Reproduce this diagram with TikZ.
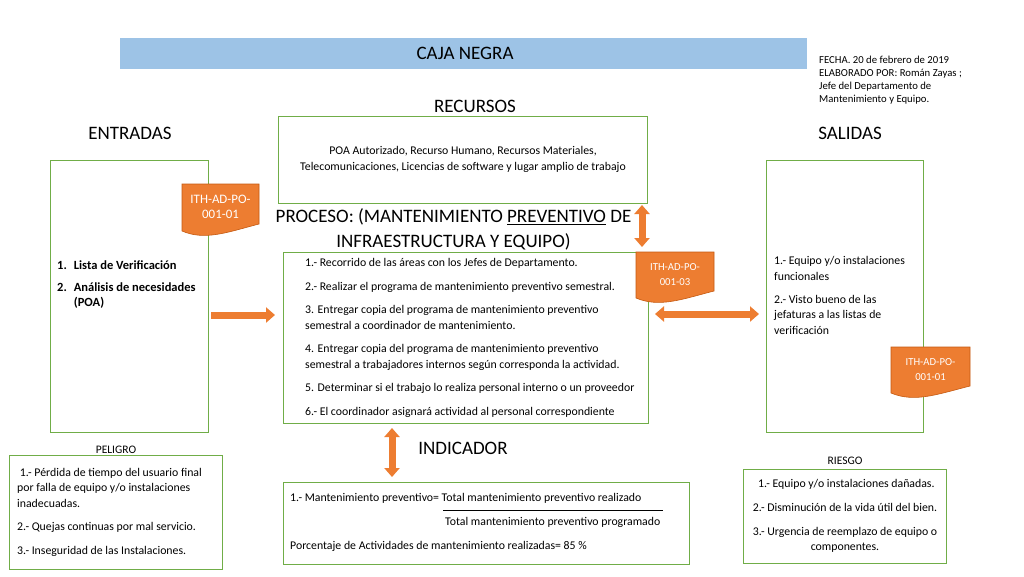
\documentclass[tikz,border=0pt]{standalone}
\usepackage{fontspec}
\setmainfont{Carlito}
\usetikzlibrary{arrows.meta}
\definecolor{gr}{HTML}{70AD47}
\definecolor{org}{HTML}{ED7D31}
\definecolor{orgd}{HTML}{C55A11}
\definecolor{blu}{HTML}{9DC3E6}
\newcommand{\docsh}[7]{%
  \path[docshape] (#2,#3) -- (#4,#3) -- (#4,{#5-12}) .. controls ({#2+0.6*(#4-#2)},{#5-4}) and ({#2+0.3*(#4-#2)},{#5+5}) .. (#2,{#5-5}) -- cycle;
  \node[doctext, font=\fontsize{#6}{15}\selectfont] (#1) at ({(#2+#4)/2},{(#3+#5)/2-3}) {#7};}
\begin{document}
\begin{tikzpicture}[x=1pt,y=-1pt,
  gbox/.style={draw=gr, line width=1.2pt, inner sep=0, anchor=north west},
  titletext/.style={font=\fontsize{19}{25}\selectfont, inner sep=0, align=center},
  body/.style={font=\fontsize{11.8}{15.5}\selectfont, inner sep=0, align=left},
  smalltext/.style={font=\fontsize{10.7}{13}\selectfont, inner sep=0, align=left},
  labeltext/.style={font=\fontsize{11.5}{14}\selectfont, inner sep=0},
  doctext/.style={text=white, align=center, inner sep=0},
  docshape/.style={fill=org, draw=orgd, line width=0.6pt},
  blockarrow/.style={draw=org, line width=7pt},
  tipone/.style={-{Triangle[width=15pt,length=9pt]}},
  tiptwo/.style={{Triangle[width=15pt,length=9pt]}-{Triangle[width=15pt,length=9pt]}}
]
\useasboundingbox (0,0) rectangle (1024,576);
\fill[white] (0,0) rectangle (1024,576);

% title bar
\node[fill=blu, inner sep=0, minimum width=687pt, minimum height=31pt, anchor=north west] (bar) at (120,38) {};
\node[titletext] (caja) at (465,53) {CAJA NEGRA};
\node[smalltext, anchor=west] (fecha) at (819,80.5) {FECHA. 20 de febrero de 2019\\ELABORADO POR: Román Zayas ;\\Jefe del Departamento de\\Mantenimiento y Equipo.};

% headings
\node[titletext] (recursosT) at (475,106) {RECURSOS};
\node[titletext] (entradasT) at (130,133) {ENTRADAS};
\node[titletext] (salidasT) at (850,133) {SALIDAS};
\node[titletext] (procesoT) at (453.5,229.5) {PROCESO: (MANTENIMIENTO \underline{PREVENTIVO} DE\\INFRAESTRUCTURA Y EQUIPO)};
\node[titletext] (indicT) at (463,448) {INDICADOR};

% boxes
\node[gbox, minimum width=369pt, minimum height=87pt] (recbox) at (278,116) {};
\node[body, align=center] (rectext) at (463,159.5) {POA Autorizado, Recurso Humano, Recursos Materiales,\\Telecomunicaciones, Licencias de software y lugar amplio de trabajo};

\node[gbox, minimum width=158pt, minimum height=272pt] (inbox) at (50,160) {};
\node[font=\fontsize{12.5}{14.5}\selectfont\bfseries, inner sep=0, anchor=west] (intext) at (57,285) {%
\begin{tabular}{@{}l@{\hspace{7pt}}l@{}}
1. & Lista de Verificación\\[8pt]
2. & Análisis de necesidades\\
   & (POA)
\end{tabular}};

\node[gbox, minimum width=365pt, minimum height=171pt] (procbox) at (283,252) {};
\node[body, anchor=west] (proctext) at (305,338) {1.- Recorrido de las áreas con los Jefes de Departamento.\\[8pt]
2.- Realizar el programa de mantenimiento preventivo semestral.\\[8pt]
3. Entregar copia del programa de mantenimiento preventivo\\semestral a coordinador de mantenimiento.\\[8pt]
4. Entregar copia del programa de mantenimiento preventivo\\semestral a trabajadores internos según corresponda la actividad.\\[8pt]
5. Determinar si el trabajo lo realiza personal interno o un proveedor\\[8pt]
6.- El coordinador asignará actividad al personal correspondiente};

\node[gbox, minimum width=157pt, minimum height=272pt] (outbox) at (766,160) {};
\node[body, anchor=west] (outtext) at (774,295.5) {1.- Equipo y/o instalaciones\\funcionales\\[7.5pt]
2.- Visto bueno de las\\jefaturas a las listas de\\verificación};

\node[gbox, minimum width=406pt, minimum height=82pt] (indbox) at (283,482) {};
\node[body, anchor=west] (ind1) at (290,498) {1.- Mantenimiento preventivo= Total mantenimiento preventivo realizado};
\coordinate (fracL) at (443,510);
\coordinate (fracR) at (663,510);
\draw[line width=0.6pt] (fracL) -- (fracR);
\node[body, anchor=west] (ind2) at (445,522) {Total mantenimiento preventivo programado};
\node[body, anchor=west] (ind3) at (290,546) {Porcentaje de Actividades de mantenimiento realizadas= 85 \%};

\node[labeltext] (peligroT) at (116,450) {PELIGRO};
\node[gbox, minimum width=213pt, minimum height=114pt] (pelbox) at (9,455) {};
\node[body, anchor=west] (peltext) at (17,512) {\ 1.- Pérdida de tiempo del usuario final\\por falla de equipo y/o instalaciones\\inadecuadas.\\[8pt]
2.- Quejas continuas por mal servicio.\\[8pt]
3.- Inseguridad de las Instalaciones.};

\node[labeltext] (riesgoT) at (845,461) {RIESGO};
\node[gbox, minimum width=203pt, minimum height=94pt] (riebox) at (743,469) {};
\node[body, align=center, font=\fontsize{11.8}{15}\selectfont] (rietext) at (845,515.5) {\ 1.- Equipo y/o instalaciones dañadas.\\[9pt]
2.- Disminución de la vida útil del bien.\\[9pt]
3.- Urgencia de reemplazo de equipo o\\componentes.};

% document shapes
\docsh{doc1}{182}{184}{259}{236}{12.9}{ITH-AD-PO-\\001-01}
\docsh{doc2}{636}{252}{714}{303}{10.7}{ITH-AD-PO-\\001-03}
\docsh{doc3}{891}{347}{970}{398}{10.7}{ITH-AD-PO-\\001-01}

% arrows
\coordinate (a1s) at (211,315);
\coordinate (a1e) at (275,315);
\draw[blockarrow, tipone] (a1s) -- (a1e);
\coordinate (a2s) at (655,314);
\coordinate (a2e) at (759,314);
\draw[blockarrow, tiptwo] (a2s) -- (a2e);
\coordinate (a3s) at (642,205);
\coordinate (a3e) at (642,247);
\draw[blockarrow, tiptwo] (a3s) -- (a3e);
\coordinate (a4s) at (392,428);
\coordinate (a4e) at (392,477);
\draw[blockarrow, tiptwo] (a4s) -- (a4e);
\end{tikzpicture}
\end{document}
